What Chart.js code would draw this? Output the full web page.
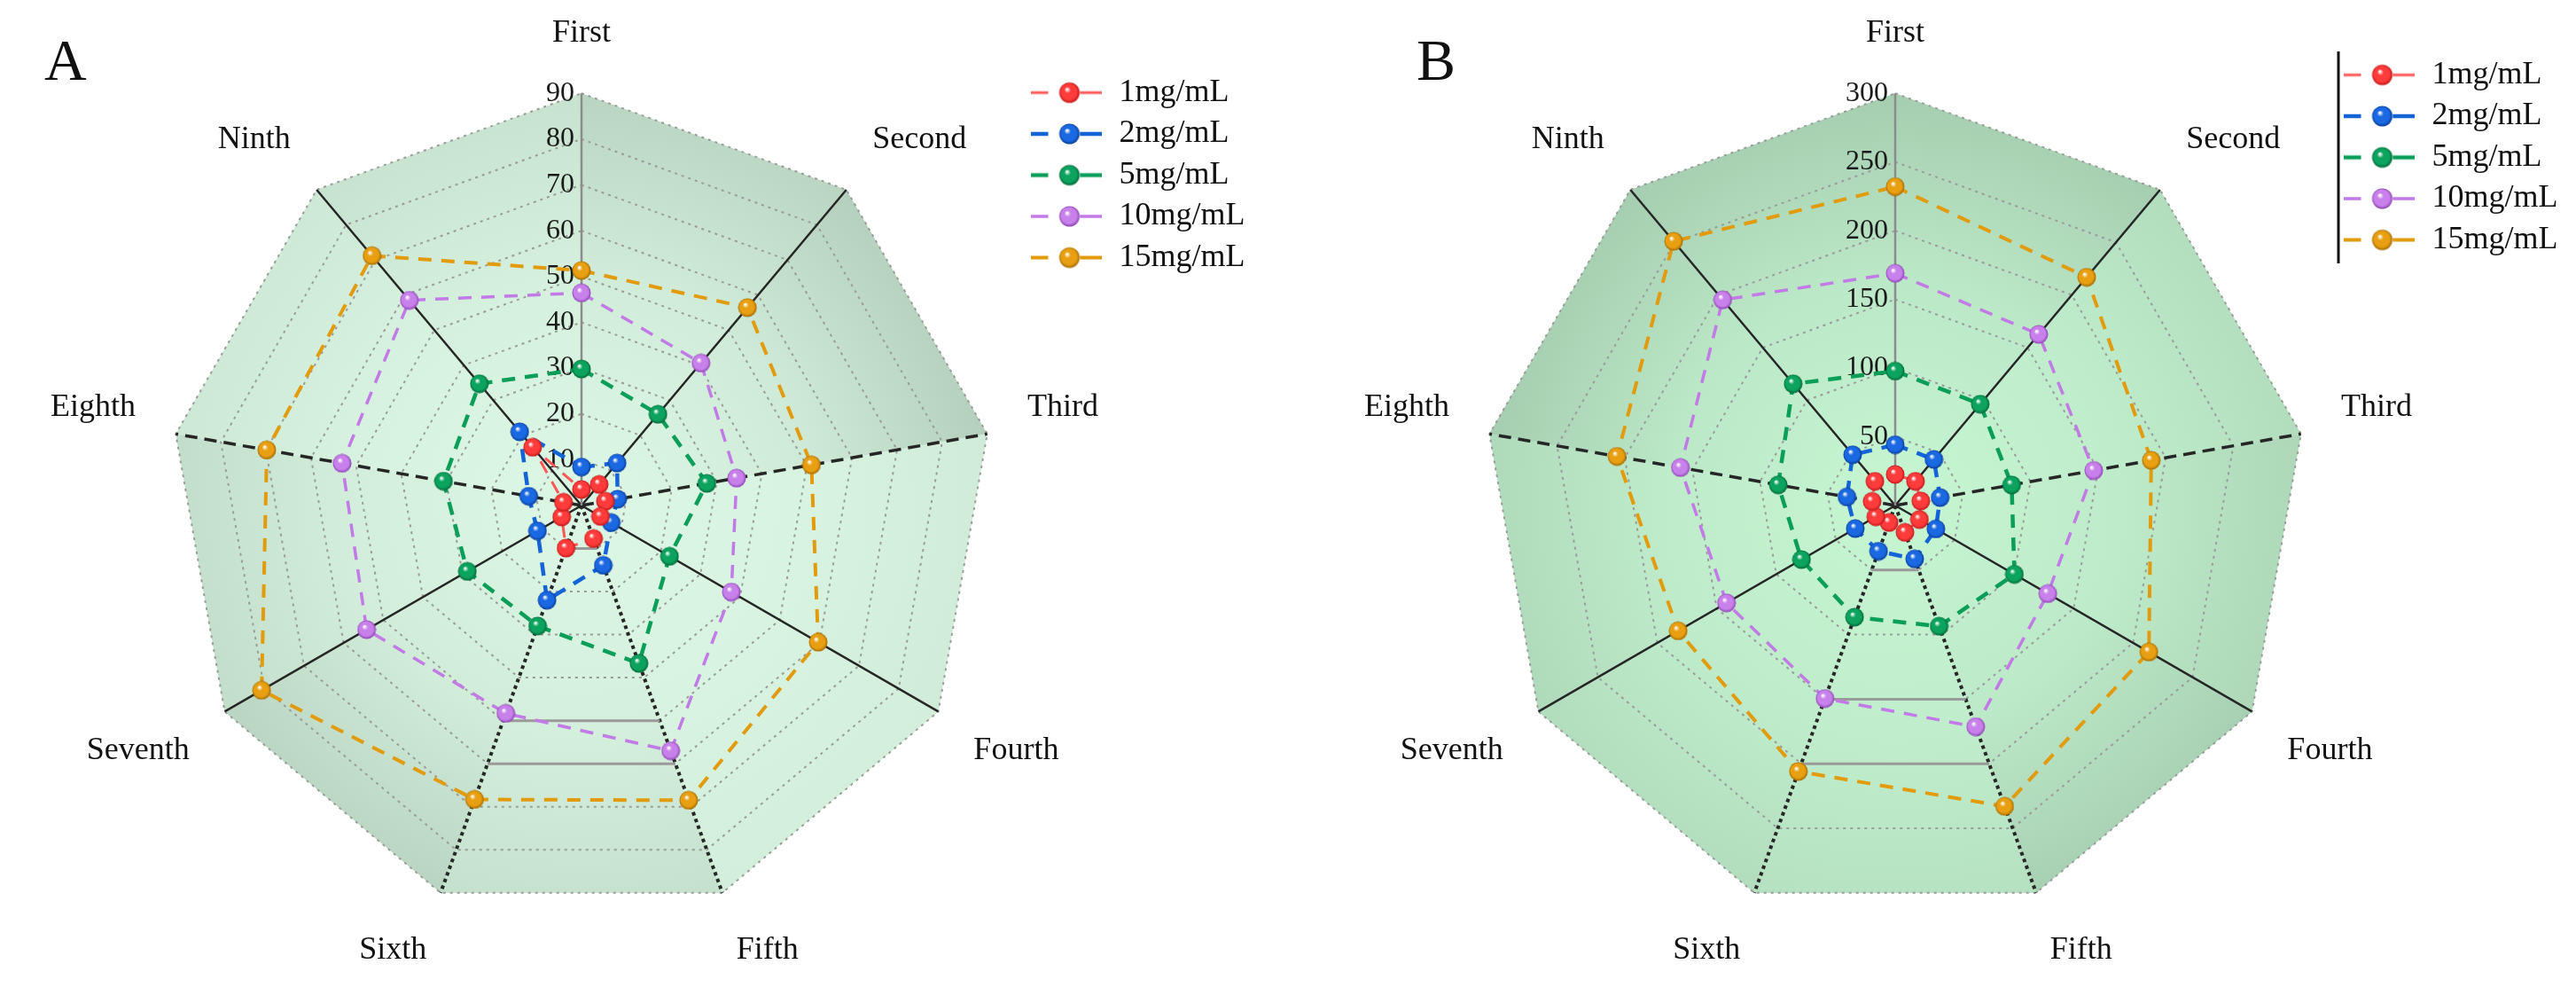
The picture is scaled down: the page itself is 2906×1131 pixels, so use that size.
<!DOCTYPE html>
<html lang="en">
<head>
<meta charset="UTF-8">
<title>Radar charts A and B</title>
<script src="https://cdn.jsdelivr.net/npm/chart.js"></script>
<style>
  html, body { margin: 0; padding: 0; background: #fff; width: 2906px; height: 1131px; overflow: hidden; position: relative; }
  .letter { position: absolute; font-family: "Liberation Serif", "Times New Roman", serif; font-size: 66px; line-height: 1; color: #111; }
  canvas { position: absolute; }
</style>
</head>
<body>
<div class="letter" style="left:50px; top:35px;">A</div>
<div class="letter" style="left:1598px; top:35px;">B</div>
<canvas id="chartA" width="1600" height="1108" style="left:-44px; top:1px;"></canvas>
<canvas id="chartB" width="1600" height="1108" style="left:1438px; top:1px;"></canvas>
<script>
// axis names and series names
const axisLabels = ['First', 'Second', 'Third', 'Fourth', 'Fifth', 'Sixth', 'Seventh', 'Eighth', 'Ninth'];
const seriesNames = ['1mg/mL', '2mg/mL', '5mg/mL', '10mg/mL', '15mg/mL'];

// panel A, scale 0 - 90
const a1mg  = [3.5, 6, 5.3, 4.8, 7.7, 9.9, 5, 4, 16.6];
const a2mg  = [8.4, 12.1, 8, 7.5, 13.9, 22, 11.1, 11.7, 21];
const a5mg  = [29.8, 26, 27.8, 22.2, 36.7, 28, 28.8, 30.6, 34.7];
const a10mg = [46.4, 40.6, 34.4, 37.8, 57, 48.3, 54.2, 53.1, 58.5];
const a15mg = [51.3, 56.4, 51, 59.7, 68.5, 68.3, 80.7, 69.8, 71.2];
const aTicks = [0, 10, 20, 30, 40, 50, 60, 70, 80, 90];

// panel B, scale 0 - 300
const b1mg  = [22.6, 23, 18.9, 20.4, 20.8, 13.2, 16.3, 17.1, 23];
const b2mg  = [44.2, 43.8, 33.2, 34.2, 41.4, 35.4, 33.6, 35.7, 48.2];
const b5mg  = [97.8, 96.3, 86.1, 100.2, 93.5, 86.5, 78.8, 86.5, 115.6];
const b10mg = [169, 162.6, 146.8, 128.3, 171.4, 149.5, 141.8, 158.8, 195.4];
const b15mg = [232, 216.9, 189.3, 213.3, 233, 206, 182.5, 205.7, 251];
const bTicks = [0, 50, 100, 150, 200, 250, 300];

const serif = '"Liberation Serif", "Times New Roman", serif';

// line colour, ball colour, ball shadow, line width
const styles = [
  { line: '#ff5757', ball: '#ff3b3b', dark: '#c01818', width: 3 },
  { line: '#1464d8', ball: '#1a68e2', dark: '#0a3e9a', width: 4.5 },
  { line: '#0a9e58', ball: '#0ba35d', dark: '#05683a', width: 4.5 },
  { line: '#c27ae6', ball: '#c880ea', dark: '#8f45b6', width: 3.5 },
  { line: '#e29b0c', ball: '#e8a012', dark: '#a66a00', width: 4 }
];

function drawBall(g, cx, cy, r, s) {
  const grad = g.createRadialGradient(cx - r * 0.25, cy - r * 0.35, r * 0.05, cx, cy, r);
  grad.addColorStop(0, '#ffffff');
  grad.addColorStop(0.28, s.ball);
  grad.addColorStop(0.75, s.ball);
  grad.addColorStop(1, s.dark);
  g.fillStyle = grad;
  g.beginPath();
  g.arc(cx, cy, r, 0, Math.PI * 2);
  g.fill();
}

function makeBall(s) {
  const c = document.createElement('canvas');
  c.width = 22; c.height = 22;
  drawBall(c.getContext('2d'), 11, 11, 10.5, s);
  return c;
}

function makeLegendIcon(s) {
  const c = document.createElement('canvas');
  c.width = 80; c.height = 26;
  const g = c.getContext('2d');
  g.strokeStyle = s.line;
  g.lineWidth = s.width;
  g.beginPath();
  g.moveTo(0, 13); g.lineTo(20, 13);
  g.moveTo(56, 13); g.lineTo(80, 13);
  g.stroke();
  drawBall(g, 44, 13, 11.5, s);
  return c;
}

const balls = styles.map(makeBall);
const legendIcons = styles.map(makeLegendIcon);

function hexToRgb(h) {
  const n = parseInt(h.slice(1), 16);
  return [(n >> 16) & 255, (n >> 8) & 255, n & 255];
}
function mix(c1, c2, t) {
  const a = hexToRgb(c1), b = hexToRgb(c2);
  return 'rgb(' + a.map((v, i) => Math.round(v + (b[i] - v) * t)).join(',') + ')';
}

// green 3D-looking face of the web, one gradient per sector
const webShading = {
  id: 'webShading',
  beforeDraw(chart, args, opts) {
    const s = chart.scales.r;
    const ctx = chart.ctx;
    const n = chart.data.labels.length;
    const R = s.drawingArea;
    ctx.save();
    ctx.fillStyle = opts.inner;
    ctx.beginPath();
    for (let i = 0; i < n; i++) {
      const p = s.getPointPosition(i, R);
      if (i === 0) ctx.moveTo(p.x, p.y); else ctx.lineTo(p.x, p.y);
    }
    ctx.closePath();
    ctx.fill();
    for (let i = 0; i < n; i++) {
      const p1 = s.getPointPosition(i, R);
      const p2 = s.getPointPosition((i + 1) % n, R);
      const g = ctx.createRadialGradient(s.xCenter, s.yCenter, R * 0.1, s.xCenter, s.yCenter, R);
      g.addColorStop(0, opts.inner);
      g.addColorStop(0.5, mix(opts.inner, opts.outer, opts.shade[i] * 0.3));
      g.addColorStop(1, mix(opts.inner, opts.outer, opts.shade[i]));
      ctx.fillStyle = g;
      ctx.beginPath();
      ctx.moveTo(s.xCenter, s.yCenter);
      ctx.lineTo(p1.x, p1.y);
      ctx.lineTo(p2.x, p2.y);
      ctx.closePath();
      ctx.fill();
    }
    ctx.restore();
  },
  beforeDatasetsDraw(chart, args, opts) {
    // the solid gray edges seen on the bottom face
    const s = chart.scales.r;
    const ctx = chart.ctx;
    ctx.save();
    ctx.strokeStyle = '#9a9a9a';
    ctx.lineWidth = 3;
    opts.bottomLevels.forEach(v => {
      const d = s.getDistanceFromCenterForValue(v);
      const p1 = s.getPointPosition(5, d);
      const p2 = s.getPointPosition(4, d);
      ctx.beginPath();
      ctx.moveTo(p1.x, p1.y);
      ctx.lineTo(p2.x, p2.y);
      ctx.stroke();
    });
    ctx.restore();
  }
};

// put the legend inside the plot area, top right
const legendSpot = {
  id: 'legendSpot',
  afterLayout(chart, args, opts) {
    const lg = chart.legend;
    const h = lg.height;
    lg.left = opts.x; lg.right = opts.x + 400; lg.width = 400;
    lg.top = opts.y; lg.bottom = opts.y + h;
  },
  afterDraw(chart, args, opts) {
    if (!opts.bar) return;
    const ctx = chart.ctx;
    ctx.save();
    ctx.strokeStyle = '#111';
    ctx.lineWidth = 3;
    ctx.beginPath();
    ctx.moveTo(opts.bar.x, opts.bar.y1);
    ctx.lineTo(opts.bar.x, opts.bar.y2);
    ctx.stroke();
    ctx.restore();
  }
};

function angleDash(i) {
  if (i === 2 || i === 7) return [14, 8];
  if (i === 4 || i === 5) return [4, 4];
  return [];
}

function buildChart(id, series, maxVal, tickValues, spot, shading) {
  const datasets = series.map((vals, i) => ({
    label: seriesNames[i],
    data: vals,
    borderColor: styles[i].line,
    backgroundColor: 'rgba(0,0,0,0)',
    borderWidth: styles[i].width,
    borderDash: [15, 11],
    fill: false,
    tension: 0,
    pointStyle: balls[i],
    pointRadius: 10
  }));
  return new Chart(document.getElementById(id), {
    type: 'radar',
    data: { labels: axisLabels, datasets: datasets },
    options: {
      responsive: false,
      animation: false,
      devicePixelRatio: 1,
      layout: { padding: 0 },
      scales: {
        r: {
          min: 0,
          max: maxVal,
          afterBuildTicks: s => { s.ticks = tickValues.map(v => ({ value: v })); },
          ticks: {
            color: '#1a1a1a',
            font: { family: serif, size: 32 },
            showLabelBackdrop: false,
            backdropPadding: 0,
            callback: v => v + ' '.repeat(String(v).length * 2 + 2)
          },
          grid: { color: '#9b9b9b', lineWidth: 2 },
          border: { dash: [3, 5] },
          angleLines: {
            color: ctx => ctx.index === 0 ? '#8c8c8c' : '#262626',
            lineWidth: ctx => (ctx.index === 4 || ctx.index === 5) ? 4 : (ctx.index === 2 || ctx.index === 7) ? 3.5 : 2.5,
            borderDash: ctx => angleDash(ctx.index)
          },
          pointLabels: {
            color: '#111',
            font: { family: serif, size: 36 },
            padding: 30
          }
        }
      },
      plugins: {
        tooltip: { enabled: false },
        legend: {
          position: 'right',
          align: 'start',
          maxWidth: 200,
          labels: {
            usePointStyle: true,
            pointStyleWidth: 84,
            padding: 10.5,
            color: '#111',
            font: { family: serif, size: 36 },
            generateLabels: chart => {
              const items = Chart.defaults.plugins.legend.labels.generateLabels(chart);
              items.forEach((it, i) => { it.pointStyle = legendIcons[i]; });
              return items;
            }
          }
        },
        legendSpot: spot,
        webShading: shading
      }
    },
    plugins: [webShading, legendSpot]
  });
}

buildChart('chartA', [a1mg, a2mg, a5mg, a10mg, a15mg], 90, aTicks,
  { x: 1194, y: 75 },
  { inner: '#dbf7e3', outer: '#a3bfab', shade: [0.6, 0.7, 0.2, 0.15, 0.4, 0.6, 0.45, 0.25, 0.35], bottomLevels: [10, 50, 60] });

buildChart('chartB', [b1mg, b2mg, b5mg, b10mg, b15mg], 300, bTicks,
  { x: 1193, y: 55, bar: { x: 1200, y1: 57, y2: 296 } },
  { inner: '#c5f4d1', outer: '#8fb398', shade: [0.6, 0.35, 0.45, 0.55, 0.3, 0.35, 0.4, 0.6, 0.6], bottomLevels: [50, 150, 200] });
</script>
</body>
</html>
